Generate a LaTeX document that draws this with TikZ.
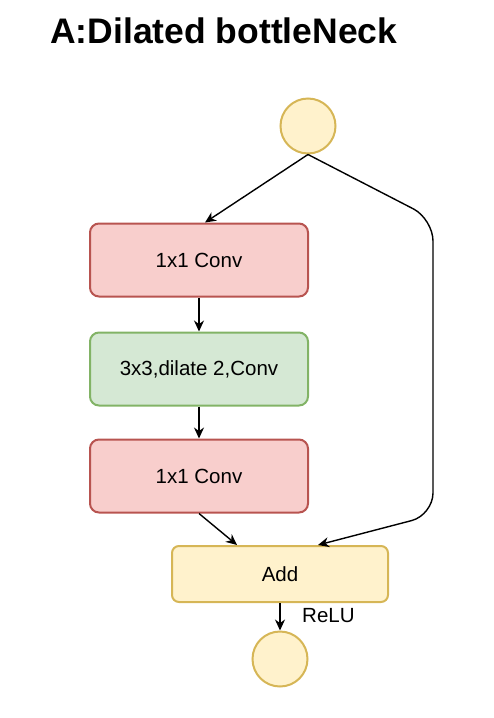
\documentclass[tikz,border=0pt]{standalone}
\usepackage{fontspec}
\setmainfont{Liberation Sans}
\usetikzlibrary{arrows.meta}
\definecolor{redfill}{HTML}{F8CECC}
\definecolor{redline}{HTML}{B85450}
\definecolor{greenfill}{HTML}{D5E8D4}
\definecolor{greenline}{HTML}{82B366}
\definecolor{yelfill}{HTML}{FFF2CC}
\definecolor{yelline}{HTML}{D6B656}
\tikzset{
  lbl/.style={font=\fontsize{20.5}{24}\selectfont},
  box/.style={draw, rounded corners=9pt, line width=2pt, minimum width=218pt, minimum height=73pt, inner sep=0pt, lbl},
  redbox/.style={box, fill=redfill, draw=redline},
  greenbox/.style={box, fill=greenfill, draw=greenline},
  addbox/.style={box, fill=yelfill, draw=yelline, minimum width=216pt, minimum height=56pt, rounded corners=7pt},
  io/.style={circle, draw=yelline, fill=yelfill, line width=2pt, minimum size=55pt, inner sep=0pt},
  conn/.style={draw, line width=1.4pt, -{Stealth[length=11pt,width=10pt]}},
}
\begin{document}
\begin{tikzpicture}[x=1pt,y=-1pt]
\useasboundingbox (0,0) rectangle (494,718);
\node[anchor=base west, inner sep=0pt, font=\bfseries\fontsize{35.5}{40}\selectfont] (title) at (50,43) {A:Dilated bottleNeck};
\node[io] (in) at (308,126) {};
\node[redbox] (c1) at (199,260) {1x1 Conv};
\node[greenbox] (c2) at (199,369) {3x3,dilate 2,Conv};
\node[redbox] (c3) at (199,476) {1x1 Conv};
\node[addbox] (add) at (280,574) {Add};
\node[io] (out) at (280,659) {};
\coordinate (k1) at (433,219);
\coordinate (k2) at (433,515);
\draw[conn] (in.south) -- (c1.north -| 205,0);
\draw[conn, rounded corners=22pt] (in.south) -- (k1) -- (k2) -- (add.north -| 318,0);
\draw[conn] (c1.south) -- (c2.north);
\draw[conn] (c2.south) -- (c3.north);
\draw[conn] (c3.south) -- (add.north -| 237,0);
\draw[conn] (add.south) -- (out.north);
\node[lbl, anchor=west, inner sep=0pt] (relu) at (302,616) {ReLU};
\end{tikzpicture}
\end{document}
